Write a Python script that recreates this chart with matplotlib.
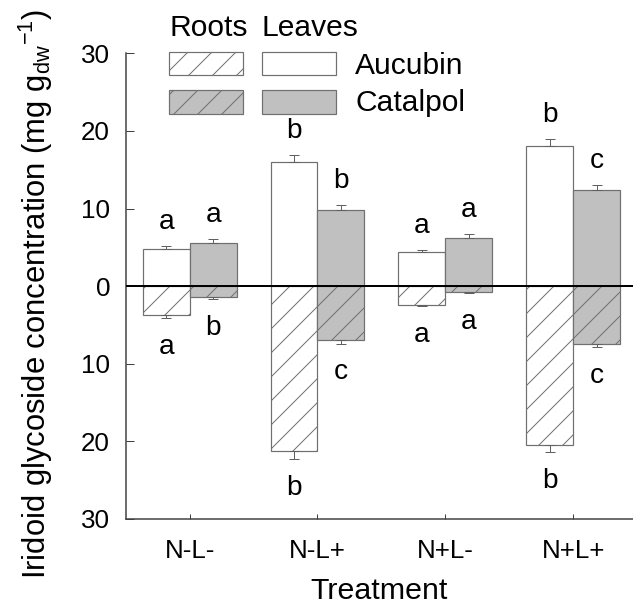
import numpy as np
import matplotlib
matplotlib.use('Agg')
import matplotlib.pyplot as plt
from matplotlib.patches import Rectangle

plt.rcParams['font.family'] = ['Liberation Sans', 'DejaVu Sans']
plt.rcParams['mathtext.default'] = 'regular'
plt.rcParams['hatch.linewidth'] = 0.5

# data (mg g-1 dw), roots drawn downwards
groups = ['N-L-', 'N-L+', 'N+L-', 'N+L+']
leaf_aucubin = [4.8, 16.0, 4.35, 18.0]
leaf_aucubin_se = [0.35, 0.85, 0.3, 0.9]
leaf_catalpol = [5.6, 9.8, 6.25, 12.35]
leaf_catalpol_se = [0.5, 0.6, 0.45, 0.7]
root_aucubin = [3.75, 21.2, 2.37, 20.5]
root_aucubin_se = [0.35, 1.1, 0.25, 0.9]
root_catalpol = [1.46, 6.9, 0.77, 7.4]
root_catalpol_se = [0.25, 0.5, 0.1, 0.45]

leaf_aucubin_letters = ['a', 'b', 'a', 'b']
leaf_catalpol_letters = ['a', 'b', 'a', 'c']
root_aucubin_letters = ['a', 'b', 'a', 'b']
root_catalpol_letters = ['b', 'c', 'a', 'c']

W, H, DPI = 633, 609, 144
fig = plt.figure(figsize=(W / DPI, H / DPI), dpi=DPI)


def fx(x):
    return x / W


def fy(y):
    return 1 - y / H


ax = fig.add_axes([fx(125.7), fy(519), fx(633 - 125.7), (519 - 53.3) / H])

x = np.arange(len(groups))
w = 0.367
edge = '#707070'
grey = '#c0c0c0'
err_kw = dict(ecolor='#606060', elinewidth=0.5, capsize=2.5, capthick=0.5)

la = np.array(leaf_aucubin)
lc = np.array(leaf_catalpol)
ra = -np.array(root_aucubin)
rc = -np.array(root_catalpol)
z = np.zeros(len(groups))

ax.bar(x - w / 2, la, w, color='white', edgecolor=edge, linewidth=0.6,
       yerr=[z, leaf_aucubin_se], error_kw=err_kw, zorder=2)
ax.bar(x + w / 2, lc, w, color=grey, edgecolor=edge, linewidth=0.6,
       yerr=[z, leaf_catalpol_se], error_kw=err_kw, zorder=2)
ax.bar(x - w / 2, ra, w, color='white', edgecolor=edge, linewidth=0.6, hatch='//',
       yerr=[root_aucubin_se, z], error_kw=err_kw, zorder=2)
ax.bar(x + w / 2, rc, w, color=grey, edgecolor=edge, linewidth=0.6, hatch='//',
       yerr=[root_catalpol_se, z], error_kw=err_kw, zorder=2)

ax.axhline(0, color='black', linewidth=1.0, zorder=3)

# significance letters
fs_let = 14
for i in range(len(groups)):
    ax.text(x[i] - w / 2, la[i] + leaf_aucubin_se[i] + 2.2, leaf_aucubin_letters[i],
            ha='center', va='baseline', fontsize=fs_let)
    ax.text(x[i] + w / 2, lc[i] + leaf_catalpol_se[i] + 2.2, leaf_catalpol_letters[i],
            ha='center', va='baseline', fontsize=fs_let)
    ax.text(x[i] - w / 2, ra[i] - root_aucubin_se[i] - 4.6, root_aucubin_letters[i],
            ha='center', va='baseline', fontsize=fs_let)
    ax.text(x[i] + w / 2, rc[i] - root_catalpol_se[i] - 4.6, root_catalpol_letters[i],
            ha='center', va='baseline', fontsize=fs_let)

ax.set_xlim(-0.5, (633 - 189) / 128)
ax.set_ylim(-30, 30)
ax.set_xticks(x)
ax.set_xticklabels(groups)
yt = np.arange(-30, 31, 10)
ax.set_yticks(yt)
ax.set_yticklabels([str(abs(v)) for v in yt])

for s in ['top', 'right']:
    ax.spines[s].set_visible(False)
for s in ['left', 'bottom']:
    ax.spines[s].set_color('#404040')
    ax.spines[s].set_linewidth(0.75)
ax.tick_params(axis='y', direction='in', length=4, width=0.5, color='#404040',
               labelsize=13, pad=7.8)
ax.tick_params(axis='x', direction='in', length=2.5, width=0.5, color='#404040',
               labelsize=13, pad=10)

ax.set_xlabel('Treatment', fontsize=15.2, labelpad=7)
fig.text(fx(36), fy(294), 'Iridoid glycoside concentration (mg g$_{dw}$$^{-1}$)',
         rotation=90, ha='center', va='center', fontsize=15.5)

# legend drawn by hand: Roots / Leaves columns
def box(x0, x1, y0, y1, fc, hatch=None):
    r = Rectangle((fx(x0), fy(y1)), fx(x1 - x0), (y1 - y0) / H, transform=fig.transFigure,
                  facecolor=fc, edgecolor=edge, linewidth=0.6, hatch=hatch)
    fig.add_artist(r)


box(169.3, 243.3, 51.7, 74.5, 'white', '//')
box(261.7, 336, 51.7, 74.5, 'white')
box(169.3, 243.3, 90, 113.5, grey, '//')
box(261.7, 336, 90, 113.5, grey)
fig.text(fx(169), fy(36), 'Roots', fontsize=15, va='baseline')
fig.text(fx(262), fy(36), 'Leaves', fontsize=15, va='baseline')
fig.text(fx(355), fy(74), 'Aucubin', fontsize=15, va='baseline')
fig.text(fx(355), fy(111), 'Catalpol', fontsize=15, va='baseline')

fig.savefig('out.png', dpi=DPI)
